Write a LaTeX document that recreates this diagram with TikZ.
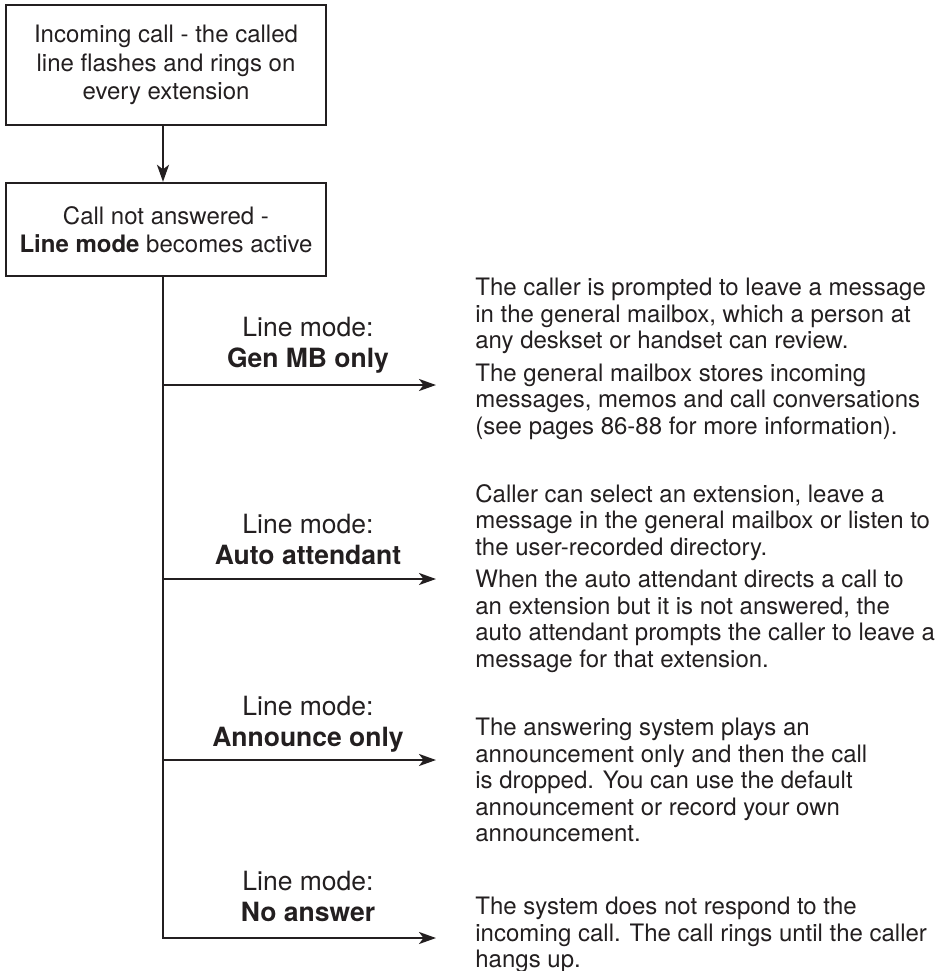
\documentclass[tikz,border=0pt]{standalone}
\usepackage{fontspec}
\setmainfont{TeX Gyre Heros}
\usetikzlibrary{arrows.meta}
\definecolor{ink}{HTML}{231F20}

\begin{document}
\begin{tikzpicture}[x=0.5pt,y=-0.5pt,>={Stealth[length=8.5pt,width=6pt,inset=2.3pt]},line join=miter,
  box/.style={draw=ink,line width=1.2pt,minimum width=160pt,inner sep=0pt,align=center,text=ink,font=\fontsize{12}{14.25}\selectfont},
  mode/.style={inner sep=0pt,align=center,text=ink,font=\fontsize{13.25}{15.5}\selectfont},
  note/.style={anchor=north west,inner sep=0pt,align=left,text=ink,font=\fontsize{12}{13.25}\selectfont},
  wire/.style={draw=ink,line width=1.2pt},
]
%%
  \useasboundingbox (0,0) rectangle (952,971);

  \node (node_0) at (166,65) [box,minimum height=60pt] {Incoming call - the called\\line flashes and rings on\\every extension};
  \node (node_1) at (166,229.5) [box,minimum height=46.5pt] {Call not answered -\\\textbf{Line mode} becomes active};

  % line modes
  \node (mode_0) at (308,345) [mode] {Line mode:\\\textbf{Gen MB only}};
  \node (mode_1) at (308,539) [mode] {Line mode:\\\textbf{Auto attendant}};
  \node (mode_2) at (308,724) [mode] {Line mode:\\\textbf{Announce only}};
  \node (mode_3) at (308,896) [mode] {Line mode:\\\textbf{No answer}};

  % what happens
  \node (note_0) at (475,278) [note] {The caller is prompted to leave a message\\in the general mailbox, which a person at\\any deskset or handset can review.\\[3pt]The general mailbox stores incoming\\messages, memos and call conversations\\(see pages 86-88 for more information).};
  \node (note_1) at (475,484) [note] {Caller can select an extension, leave a\\message in the general mailbox or listen to\\the user-recorded directory.\\[3pt]When the auto attendant directs a call to\\an extension but it is not answered, the\\auto attendant prompts the caller to leave a\\message for that extension.};
  \node (note_2) at (475,718) [note] {The answering system plays an\\announcement only and then the call\\is dropped. You can use the default\\announcement or record your own\\announcement.};
  \node (note_3) at (475,897) [note] {The system does not respond to the\\incoming call. The call rings until the caller\\hangs up.};

  \coordinate (b_0) at (163,385);
  \coordinate (b_1) at (163,579);
  \coordinate (b_2) at (163,760);
  \coordinate (b_3) at (163,938);
  \coordinate (e_0) at (436,385);
  \coordinate (e_1) at (436,579);
  \coordinate (e_2) at (436,760);
  \coordinate (e_3) at (436,938);

  \draw [wire,->] ([xshift=-1.5pt]node_0.south) -- ([xshift=-1.5pt]node_1.north);
  \draw [wire,->] ([xshift=-1.5pt]node_1.south) -- (b_3) -- (e_3);
  \draw [wire,->] (b_0) -- (e_0);
  \draw [wire,->] (b_1) -- (e_1);
  \draw [wire,->] (b_2) -- (e_2);
%
\end{tikzpicture}
\end{document}
